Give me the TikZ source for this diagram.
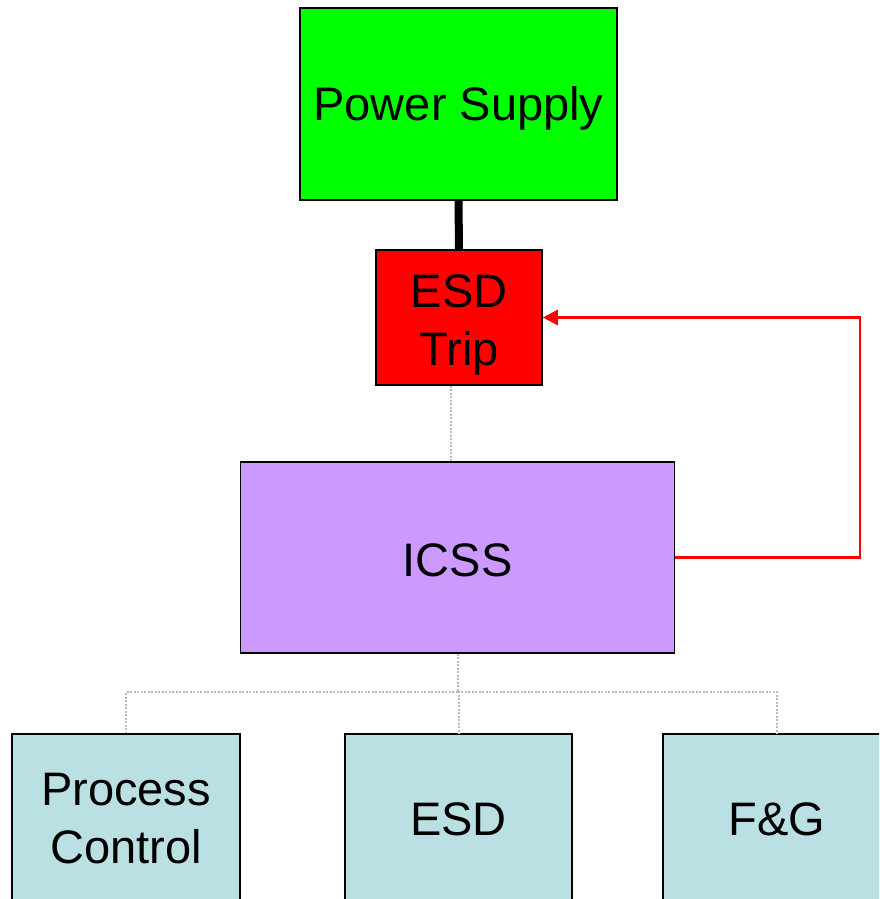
\documentclass[tikz,border=0pt]{standalone}
\usepackage{fontspec}
\setmainfont{Liberation Sans}
\usetikzlibrary{arrows.meta}
\definecolor{psgreen}{HTML}{00FF00}
\definecolor{tripred}{HTML}{FF0000}
\definecolor{icsspurple}{HTML}{CC99FF}
\definecolor{subcyan}{HTML}{BBE0E3}
\definecolor{dotgray}{HTML}{BBBBBB}
\tikzset{
  boxnode/.style={draw=black, line width=1.6pt, inner sep=0pt},
  boxtext/.style={inner sep=0pt, align=center, font=\fontsize{47}{58}\selectfont},
  dotline/.style={draw=dotgray, line width=2pt, dash pattern=on 2pt off 1.5pt},
  powerline/.style={draw=black, line width=8pt},
  tripline/.style={draw=tripred, line width=2.5pt, -{Triangle[length=15pt,width=15pt]}},
}
\begin{document}
\begin{tikzpicture}[x=1pt,y=-1pt]
\useasboundingbox (0,0) rectangle (879,899);
\clip (0,0) rectangle (879,899);
\node[boxnode, fill=psgreen, minimum width=317pt, minimum height=192pt] (power) at (458.5,104) {};
\node[boxnode, fill=tripred, minimum width=166pt, minimum height=135pt] (trip) at (459,317.5) {};
\node[boxnode, fill=icsspurple, minimum width=434pt, minimum height=191pt] (icss) at (457.5,557.5) {};
\node[boxnode, fill=subcyan, minimum width=228pt, minimum height=170pt] (pc) at (126,819) {};
\node[boxnode, fill=subcyan, minimum width=227pt, minimum height=170pt] (esd) at (458.5,819) {};
\node[boxnode, fill=subcyan, minimum width=228pt, minimum height=170pt] (fg) at (777,819) {};
\node[boxtext] (powertext) at ([yshift=-4pt]power.center) {Power Supply};
\node[boxtext] (triptext) at ([yshift=-7pt]trip.center) {ESD\\Trip};
\node[boxtext] (icsstext) at ([yshift=-3pt]icss.center) {ICSS};
\node[boxtext] (pctext) at (pc.center) {Process\\Control};
\node[boxtext] (esdtext) at (esd.center) {ESD};
\node[boxtext] (fgtext) at (fg.center) {F\&G};
\draw[powerline] (power.south) -- (trip.north);
\draw[dotline] ([xshift=-8pt]trip.south) -- ([xshift=-8pt]trip.south |- icss.north);
\coordinate (rc) at (860,437);
\draw[tripline] (icss.east) -| (rc) |- (trip.east);
\coordinate (bus) at (457.5,692);
\draw[dotline] (icss.south) -- (bus);
\draw[dotline] (bus) -| (pc.north);
\draw[dotline] (bus) -| (esd.north);
\draw[dotline] (bus) -| (fg.north);
\end{tikzpicture}
\end{document}
